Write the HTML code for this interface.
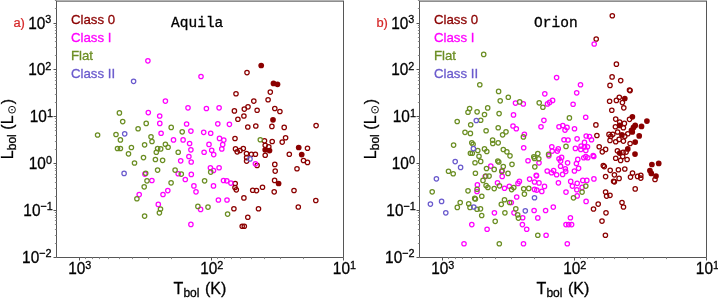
<!DOCTYPE html>
<html><head><meta charset="utf-8"><title>Lbol vs Tbol</title>
<style>
html,body{margin:0;padding:0;background:#fff;overflow:hidden}
svg{display:block;will-change:transform}
text{font-family:"Liberation Sans",sans-serif}
.mono{font-family:"Liberation Mono",monospace}
</style></head><body>
<svg width="718" height="298" viewBox="0 0 718 298">
<rect width="718" height="298" fill="#fff"/>
<g id="panel-a">
<rect x="56.0" y="0" width="288.0" height="1" fill="#b2b2b2"/>
<rect x="56.0" y="1" width="288.0" height="1" fill="#8e8e8e"/>
<path d="M56.5 1V257.5H343.5V1" fill="none" stroke="#565656" stroke-width="1"/>
<path d="M343.5 257.5v3M211.5 257.5v3M79.5 257.5v3M56.5 257.5h-3M56.5 210.5h-3M56.5 163.5h-3M56.5 116.5h-3M56.5 69.5h-3M56.5 23.5h-3" fill="none" stroke="#565656" stroke-width="1"/>
<path d="M303.5 257.5v1.6M280.5 257.5v1.6M264.5 257.5v1.6M251.5 257.5v1.6M240.5 257.5v1.6M231.5 257.5v1.6M224.5 257.5v1.6M217.5 257.5v1.6M171.5 257.5v1.6M148.5 257.5v1.6M132.5 257.5v1.6M119.5 257.5v1.6M108.5 257.5v1.6M99.5 257.5v1.6M92.5 257.5v1.6M85.5 257.5v1.6M56.5 243.5h-1.6M56.5 235.5h-1.6M56.5 229.5h-1.6M56.5 224.5h-1.6M56.5 220.5h-1.6M56.5 217.5h-1.6M56.5 215.5h-1.6M56.5 212.5h-1.6M56.5 196.5h-1.6M56.5 188.5h-1.6M56.5 182.5h-1.6M56.5 177.5h-1.6M56.5 174.5h-1.6M56.5 170.5h-1.6M56.5 168.5h-1.6M56.5 165.5h-1.6M56.5 149.5h-1.6M56.5 141.5h-1.6M56.5 135.5h-1.6M56.5 130.5h-1.6M56.5 127.5h-1.6M56.5 124.5h-1.6M56.5 121.5h-1.6M56.5 118.5h-1.6M56.5 102.5h-1.6M56.5 94.5h-1.6M56.5 88.5h-1.6M56.5 84.5h-1.6M56.5 80.5h-1.6M56.5 77.5h-1.6M56.5 74.5h-1.6M56.5 72.5h-1.6M56.5 55.5h-1.6M56.5 47.5h-1.6M56.5 41.5h-1.6M56.5 37.5h-1.6M56.5 33.5h-1.6M56.5 30.5h-1.6M56.5 27.5h-1.6M56.5 25.5h-1.6M56.5 8.5h-1.6M56.5 0.5h-1.6" fill="none" stroke="#8a8a8a" stroke-width="1"/>
<text transform="translate(79.80 274.30) scale(0.94 1)" text-anchor="middle" font-size="16.4" stroke="#000" stroke-width="0.3">10<tspan dy="-5.5" font-size="11.5">3</tspan></text>
<text transform="translate(211.80 274.30) scale(0.94 1)" text-anchor="middle" font-size="16.4" stroke="#000" stroke-width="0.3">10<tspan dy="-5.5" font-size="11.5">2</tspan></text>
<text transform="translate(344.40 274.30) scale(0.94 1)" text-anchor="middle" font-size="16.4" stroke="#000" stroke-width="0.3">10<tspan dy="-5.5" font-size="11.5">1</tspan></text>
<text transform="translate(51.30 28.50) scale(0.94 1)" text-anchor="end" font-size="16.4" stroke="#000" stroke-width="0.3">10<tspan dy="-5.5" font-size="11.5">3</tspan></text>
<text transform="translate(51.30 75.36) scale(0.94 1)" text-anchor="end" font-size="16.4" stroke="#000" stroke-width="0.3">10<tspan dy="-5.5" font-size="11.5">2</tspan></text>
<text transform="translate(52.90 122.22) scale(0.94 1)" text-anchor="end" font-size="16.4" stroke="#000" stroke-width="0.3">10<tspan dy="-5.5" font-size="11.5">1</tspan></text>
<text transform="translate(51.90 169.08) scale(0.94 1)" text-anchor="end" font-size="16.4" stroke="#000" stroke-width="0.3">10<tspan dy="-5.5" font-size="11.5">0</tspan></text>
<text transform="translate(52.80 215.94) scale(0.94 1)" text-anchor="end" font-size="16.4" stroke="#000" stroke-width="0.3">10<tspan dy="-5.5" font-size="11.5">−1</tspan></text>
<text transform="translate(51.60 262.80) scale(0.94 1)" text-anchor="end" font-size="16.4" stroke="#000" stroke-width="0.3">10<tspan dy="-5.5" font-size="11.5">−2</tspan></text>
<text transform="translate(13.4 26.8) scale(0.97 1)" font-size="13.3" fill="#d62728" stroke="#d62728" stroke-width="0.25">a)</text>
<text transform="translate(70.9 23.65) scale(0.975 1)" font-size="13.6" fill="#8b0000" stroke="#8b0000" stroke-width="0.3">Class 0</text>
<text transform="translate(70.9 41.60) scale(0.975 1)" font-size="13.6" fill="#ff00ff" stroke="#ff00ff" stroke-width="0.3">Class I</text>
<text transform="translate(70.9 59.55) scale(0.975 1)" font-size="13.6" fill="#6b8e23" stroke="#6b8e23" stroke-width="0.3">Flat</text>
<text transform="translate(70.9 77.50) scale(0.975 1)" font-size="13.6" fill="#6a5acd" stroke="#6a5acd" stroke-width="0.3">Class II</text>
<text x="171.1" y="26.6" font-size="14.5" class="mono" stroke="#000" stroke-width="0.3">Aquila</text>
<text x="200.0" y="293.9" text-anchor="middle" font-size="16" stroke="#000" stroke-width="0.3">T<tspan dy="2.8" font-size="12">bol</tspan><tspan dy="-2.8" dx="1.2"> (K)</tspan></text>
<g transform="translate(12.9 159.2) rotate(-90)"><text x="0" y="0" font-size="16" stroke="#000" stroke-width="0.3">L<tspan dy="2.8" font-size="12">bol</tspan><tspan dy="-2.8" dx="0.2"> (L</tspan></text><circle cx="49.5" cy="-0.9" r="3.4" fill="none" stroke="#000" stroke-width="0.9"/><circle cx="49.5" cy="-0.9" r="0.8" fill="#000"/><text x="55.0" y="0" font-size="16" stroke="#000" stroke-width="0.3">)</text></g>
<circle cx="261.2" cy="65.5" r="2.85" fill="#8b0000"/>
<circle cx="273.5" cy="83.4" r="2.85" fill="#8b0000"/>
<circle cx="277.5" cy="84.3" r="2.85" fill="#8b0000"/>
<circle cx="273.0" cy="119.8" r="2.85" fill="#8b0000"/>
<circle cx="265.2" cy="149.8" r="2.85" fill="#8b0000"/>
<circle cx="269.5" cy="150.6" r="2.85" fill="#8b0000"/>
<circle cx="298.7" cy="147.5" r="2.85" fill="#8b0000"/>
<circle cx="301.7" cy="154.6" r="2.85" fill="#8b0000"/>
<circle cx="278.6" cy="183.5" r="2.85" fill="#8b0000"/>
<circle cx="247.0" cy="72.6" r="2.2" fill="none" stroke="#8b0000" stroke-width="1.25"/>
<circle cx="236.0" cy="93.7" r="2.2" fill="none" stroke="#8b0000" stroke-width="1.25"/>
<circle cx="234.4" cy="110.9" r="2.2" fill="none" stroke="#8b0000" stroke-width="1.25"/>
<circle cx="244.3" cy="109.1" r="2.2" fill="none" stroke="#8b0000" stroke-width="1.25"/>
<circle cx="248.0" cy="106.8" r="2.2" fill="none" stroke="#8b0000" stroke-width="1.25"/>
<circle cx="243.9" cy="116.0" r="2.2" fill="none" stroke="#8b0000" stroke-width="1.25"/>
<circle cx="237.9" cy="119.2" r="2.2" fill="none" stroke="#8b0000" stroke-width="1.25"/>
<circle cx="270.3" cy="92.1" r="2.2" fill="none" stroke="#8b0000" stroke-width="1.25"/>
<circle cx="268.1" cy="99.7" r="2.2" fill="none" stroke="#8b0000" stroke-width="1.25"/>
<circle cx="253.8" cy="101.1" r="2.2" fill="none" stroke="#8b0000" stroke-width="1.25"/>
<circle cx="257.1" cy="110.2" r="2.2" fill="none" stroke="#8b0000" stroke-width="1.25"/>
<circle cx="274.8" cy="108.5" r="2.2" fill="none" stroke="#8b0000" stroke-width="1.25"/>
<circle cx="279.9" cy="111.5" r="2.2" fill="none" stroke="#8b0000" stroke-width="1.25"/>
<circle cx="247.8" cy="127.0" r="2.2" fill="none" stroke="#8b0000" stroke-width="1.25"/>
<circle cx="235.0" cy="138.5" r="2.2" fill="none" stroke="#8b0000" stroke-width="1.25"/>
<circle cx="235.5" cy="148.9" r="2.2" fill="none" stroke="#8b0000" stroke-width="1.25"/>
<circle cx="243.3" cy="148.5" r="2.2" fill="none" stroke="#8b0000" stroke-width="1.25"/>
<circle cx="237.2" cy="151.8" r="2.2" fill="none" stroke="#8b0000" stroke-width="1.25"/>
<circle cx="240.0" cy="150.5" r="2.2" fill="none" stroke="#8b0000" stroke-width="1.25"/>
<circle cx="246.5" cy="153.6" r="2.2" fill="none" stroke="#8b0000" stroke-width="1.25"/>
<circle cx="246.6" cy="157.6" r="2.2" fill="none" stroke="#8b0000" stroke-width="1.25"/>
<circle cx="246.6" cy="161.1" r="2.2" fill="none" stroke="#8b0000" stroke-width="1.25"/>
<circle cx="255.8" cy="126.0" r="2.2" fill="none" stroke="#8b0000" stroke-width="1.25"/>
<circle cx="271.9" cy="126.4" r="2.2" fill="none" stroke="#8b0000" stroke-width="1.25"/>
<circle cx="284.2" cy="127.4" r="2.2" fill="none" stroke="#8b0000" stroke-width="1.25"/>
<circle cx="316.1" cy="125.6" r="2.2" fill="none" stroke="#8b0000" stroke-width="1.25"/>
<circle cx="264.5" cy="140.8" r="2.2" fill="none" stroke="#8b0000" stroke-width="1.25"/>
<circle cx="272.2" cy="141.5" r="2.2" fill="none" stroke="#8b0000" stroke-width="1.25"/>
<circle cx="285.6" cy="137.7" r="2.2" fill="none" stroke="#8b0000" stroke-width="1.25"/>
<circle cx="282.2" cy="142.1" r="2.2" fill="none" stroke="#8b0000" stroke-width="1.25"/>
<circle cx="265.2" cy="145.2" r="2.2" fill="none" stroke="#8b0000" stroke-width="1.25"/>
<circle cx="268.8" cy="146.8" r="2.2" fill="none" stroke="#8b0000" stroke-width="1.25"/>
<circle cx="307.5" cy="148.2" r="2.2" fill="none" stroke="#8b0000" stroke-width="1.25"/>
<circle cx="289.3" cy="154.2" r="2.2" fill="none" stroke="#8b0000" stroke-width="1.25"/>
<circle cx="265.2" cy="155.2" r="2.2" fill="none" stroke="#8b0000" stroke-width="1.25"/>
<circle cx="255.4" cy="154.2" r="2.2" fill="none" stroke="#8b0000" stroke-width="1.25"/>
<circle cx="251.4" cy="154.2" r="2.2" fill="none" stroke="#8b0000" stroke-width="1.25"/>
<circle cx="235.2" cy="183.5" r="2.2" fill="none" stroke="#8b0000" stroke-width="1.25"/>
<circle cx="235.0" cy="187.5" r="2.2" fill="none" stroke="#8b0000" stroke-width="1.25"/>
<circle cx="236.3" cy="189.8" r="2.2" fill="none" stroke="#8b0000" stroke-width="1.25"/>
<circle cx="243.9" cy="197.9" r="2.2" fill="none" stroke="#8b0000" stroke-width="1.25"/>
<circle cx="257.1" cy="165.4" r="2.2" fill="none" stroke="#8b0000" stroke-width="1.25"/>
<circle cx="274.8" cy="164.4" r="2.2" fill="none" stroke="#8b0000" stroke-width="1.25"/>
<circle cx="275.2" cy="171.1" r="2.2" fill="none" stroke="#8b0000" stroke-width="1.25"/>
<circle cx="297.0" cy="168.7" r="2.2" fill="none" stroke="#8b0000" stroke-width="1.25"/>
<circle cx="303.5" cy="160.5" r="2.2" fill="none" stroke="#8b0000" stroke-width="1.25"/>
<circle cx="307.5" cy="162.4" r="2.2" fill="none" stroke="#8b0000" stroke-width="1.25"/>
<circle cx="274.6" cy="180.4" r="2.2" fill="none" stroke="#8b0000" stroke-width="1.25"/>
<circle cx="262.5" cy="187.2" r="2.2" fill="none" stroke="#8b0000" stroke-width="1.25"/>
<circle cx="252.7" cy="190.2" r="2.2" fill="none" stroke="#8b0000" stroke-width="1.25"/>
<circle cx="256.5" cy="190.6" r="2.2" fill="none" stroke="#8b0000" stroke-width="1.25"/>
<circle cx="274.2" cy="191.8" r="2.2" fill="none" stroke="#8b0000" stroke-width="1.25"/>
<circle cx="294.0" cy="190.5" r="2.2" fill="none" stroke="#8b0000" stroke-width="1.25"/>
<circle cx="315.8" cy="200.5" r="2.2" fill="none" stroke="#8b0000" stroke-width="1.25"/>
<circle cx="233.9" cy="208.7" r="2.2" fill="none" stroke="#8b0000" stroke-width="1.25"/>
<circle cx="247.8" cy="217.2" r="2.2" fill="none" stroke="#8b0000" stroke-width="1.25"/>
<circle cx="242.2" cy="226.2" r="2.2" fill="none" stroke="#8b0000" stroke-width="1.25"/>
<circle cx="244.3" cy="226.2" r="2.2" fill="none" stroke="#8b0000" stroke-width="1.25"/>
<circle cx="258.5" cy="208.7" r="2.2" fill="none" stroke="#8b0000" stroke-width="1.25"/>
<circle cx="298.3" cy="207.0" r="2.2" fill="none" stroke="#8b0000" stroke-width="1.25"/>
<circle cx="147.9" cy="60.8" r="2.2" fill="none" stroke="#ff00ff" stroke-width="1.25"/>
<circle cx="201.0" cy="76.5" r="2.2" fill="none" stroke="#ff00ff" stroke-width="1.25"/>
<circle cx="148.3" cy="112.6" r="2.2" fill="none" stroke="#ff00ff" stroke-width="1.25"/>
<circle cx="165.4" cy="101.1" r="2.2" fill="none" stroke="#ff00ff" stroke-width="1.25"/>
<circle cx="159.7" cy="116.0" r="2.2" fill="none" stroke="#ff00ff" stroke-width="1.25"/>
<circle cx="188.0" cy="107.8" r="2.2" fill="none" stroke="#ff00ff" stroke-width="1.25"/>
<circle cx="206.4" cy="108.5" r="2.2" fill="none" stroke="#ff00ff" stroke-width="1.25"/>
<circle cx="219.1" cy="107.8" r="2.2" fill="none" stroke="#ff00ff" stroke-width="1.25"/>
<circle cx="159.8" cy="123.4" r="2.2" fill="none" stroke="#ff00ff" stroke-width="1.25"/>
<circle cx="186.6" cy="124.0" r="2.2" fill="none" stroke="#ff00ff" stroke-width="1.25"/>
<circle cx="217.8" cy="123.8" r="2.2" fill="none" stroke="#ff00ff" stroke-width="1.25"/>
<circle cx="229.4" cy="124.3" r="2.2" fill="none" stroke="#ff00ff" stroke-width="1.25"/>
<circle cx="161.1" cy="133.2" r="2.2" fill="none" stroke="#ff00ff" stroke-width="1.25"/>
<circle cx="190.9" cy="131.1" r="2.2" fill="none" stroke="#ff00ff" stroke-width="1.25"/>
<circle cx="203.7" cy="132.3" r="2.2" fill="none" stroke="#ff00ff" stroke-width="1.25"/>
<circle cx="210.7" cy="133.2" r="2.2" fill="none" stroke="#ff00ff" stroke-width="1.25"/>
<circle cx="173.5" cy="139.9" r="2.2" fill="none" stroke="#ff00ff" stroke-width="1.25"/>
<circle cx="183.1" cy="139.9" r="2.2" fill="none" stroke="#ff00ff" stroke-width="1.25"/>
<circle cx="189.6" cy="143.5" r="2.2" fill="none" stroke="#ff00ff" stroke-width="1.25"/>
<circle cx="219.5" cy="138.4" r="2.2" fill="none" stroke="#ff00ff" stroke-width="1.25"/>
<circle cx="223.8" cy="140.1" r="2.2" fill="none" stroke="#ff00ff" stroke-width="1.25"/>
<circle cx="222.7" cy="144.6" r="2.2" fill="none" stroke="#ff00ff" stroke-width="1.25"/>
<circle cx="209.0" cy="144.4" r="2.2" fill="none" stroke="#ff00ff" stroke-width="1.25"/>
<circle cx="221.8" cy="148.9" r="2.2" fill="none" stroke="#ff00ff" stroke-width="1.25"/>
<circle cx="190.9" cy="149.8" r="2.2" fill="none" stroke="#ff00ff" stroke-width="1.25"/>
<circle cx="211.7" cy="150.2" r="2.2" fill="none" stroke="#ff00ff" stroke-width="1.25"/>
<circle cx="204.1" cy="152.2" r="2.2" fill="none" stroke="#ff00ff" stroke-width="1.25"/>
<circle cx="213.7" cy="154.6" r="2.2" fill="none" stroke="#ff00ff" stroke-width="1.25"/>
<circle cx="188.9" cy="156.5" r="2.2" fill="none" stroke="#ff00ff" stroke-width="1.25"/>
<circle cx="180.7" cy="160.8" r="2.2" fill="none" stroke="#ff00ff" stroke-width="1.25"/>
<circle cx="191.2" cy="162.0" r="2.2" fill="none" stroke="#ff00ff" stroke-width="1.25"/>
<circle cx="210.4" cy="167.7" r="2.2" fill="none" stroke="#ff00ff" stroke-width="1.25"/>
<circle cx="219.1" cy="167.7" r="2.2" fill="none" stroke="#ff00ff" stroke-width="1.25"/>
<circle cx="213.5" cy="170.5" r="2.2" fill="none" stroke="#ff00ff" stroke-width="1.25"/>
<circle cx="178.2" cy="173.7" r="2.2" fill="none" stroke="#ff00ff" stroke-width="1.25"/>
<circle cx="191.3" cy="174.4" r="2.2" fill="none" stroke="#ff00ff" stroke-width="1.25"/>
<circle cx="185.3" cy="179.5" r="2.2" fill="none" stroke="#ff00ff" stroke-width="1.25"/>
<circle cx="151.9" cy="180.5" r="2.2" fill="none" stroke="#ff00ff" stroke-width="1.25"/>
<circle cx="193.9" cy="185.9" r="2.2" fill="none" stroke="#ff00ff" stroke-width="1.25"/>
<circle cx="196.0" cy="191.8" r="2.2" fill="none" stroke="#ff00ff" stroke-width="1.25"/>
<circle cx="167.8" cy="190.6" r="2.2" fill="none" stroke="#ff00ff" stroke-width="1.25"/>
<circle cx="163.0" cy="194.5" r="2.2" fill="none" stroke="#ff00ff" stroke-width="1.25"/>
<circle cx="213.5" cy="185.9" r="2.2" fill="none" stroke="#ff00ff" stroke-width="1.25"/>
<circle cx="223.5" cy="180.5" r="2.2" fill="none" stroke="#ff00ff" stroke-width="1.25"/>
<circle cx="226.8" cy="180.8" r="2.2" fill="none" stroke="#ff00ff" stroke-width="1.25"/>
<circle cx="230.9" cy="183.1" r="2.2" fill="none" stroke="#ff00ff" stroke-width="1.25"/>
<circle cx="218.4" cy="200.0" r="2.2" fill="none" stroke="#ff00ff" stroke-width="1.25"/>
<circle cx="227.0" cy="200.0" r="2.2" fill="none" stroke="#ff00ff" stroke-width="1.25"/>
<circle cx="144.9" cy="174.1" r="2.2" fill="none" stroke="#ff00ff" stroke-width="1.25"/>
<circle cx="139.2" cy="194.6" r="2.2" fill="none" stroke="#ff00ff" stroke-width="1.25"/>
<circle cx="158.3" cy="204.4" r="2.2" fill="none" stroke="#ff00ff" stroke-width="1.25"/>
<circle cx="200.6" cy="209.4" r="2.2" fill="none" stroke="#ff00ff" stroke-width="1.25"/>
<circle cx="190.9" cy="224.4" r="2.2" fill="none" stroke="#ff00ff" stroke-width="1.25"/>
<circle cx="255.4" cy="163.8" r="2.2" fill="none" stroke="#ff00ff" stroke-width="1.25"/>
<circle cx="119.4" cy="112.9" r="2.2" fill="none" stroke="#6b8e23" stroke-width="1.25"/>
<circle cx="122.7" cy="121.6" r="2.2" fill="none" stroke="#6b8e23" stroke-width="1.25"/>
<circle cx="146.2" cy="123.4" r="2.2" fill="none" stroke="#6b8e23" stroke-width="1.25"/>
<circle cx="138.1" cy="128.7" r="2.2" fill="none" stroke="#6b8e23" stroke-width="1.25"/>
<circle cx="97.6" cy="135.0" r="2.2" fill="none" stroke="#6b8e23" stroke-width="1.25"/>
<circle cx="116.0" cy="134.5" r="2.2" fill="none" stroke="#6b8e23" stroke-width="1.25"/>
<circle cx="120.4" cy="139.9" r="2.2" fill="none" stroke="#6b8e23" stroke-width="1.25"/>
<circle cx="151.0" cy="136.8" r="2.2" fill="none" stroke="#6b8e23" stroke-width="1.25"/>
<circle cx="152.0" cy="141.5" r="2.2" fill="none" stroke="#6b8e23" stroke-width="1.25"/>
<circle cx="144.6" cy="144.8" r="2.2" fill="none" stroke="#6b8e23" stroke-width="1.25"/>
<circle cx="117.5" cy="148.5" r="2.2" fill="none" stroke="#6b8e23" stroke-width="1.25"/>
<circle cx="120.4" cy="148.5" r="2.2" fill="none" stroke="#6b8e23" stroke-width="1.25"/>
<circle cx="131.4" cy="147.5" r="2.2" fill="none" stroke="#6b8e23" stroke-width="1.25"/>
<circle cx="128.5" cy="153.8" r="2.2" fill="none" stroke="#6b8e23" stroke-width="1.25"/>
<circle cx="143.5" cy="157.6" r="2.2" fill="none" stroke="#6b8e23" stroke-width="1.25"/>
<circle cx="171.2" cy="127.4" r="2.2" fill="none" stroke="#6b8e23" stroke-width="1.25"/>
<circle cx="182.2" cy="131.8" r="2.2" fill="none" stroke="#6b8e23" stroke-width="1.25"/>
<circle cx="165.4" cy="144.2" r="2.2" fill="none" stroke="#6b8e23" stroke-width="1.25"/>
<circle cx="168.1" cy="147.2" r="2.2" fill="none" stroke="#6b8e23" stroke-width="1.25"/>
<circle cx="160.7" cy="148.9" r="2.2" fill="none" stroke="#6b8e23" stroke-width="1.25"/>
<circle cx="157.6" cy="148.5" r="2.2" fill="none" stroke="#6b8e23" stroke-width="1.25"/>
<circle cx="156.3" cy="152.2" r="2.2" fill="none" stroke="#6b8e23" stroke-width="1.25"/>
<circle cx="178.2" cy="152.2" r="2.2" fill="none" stroke="#6b8e23" stroke-width="1.25"/>
<circle cx="155.4" cy="159.5" r="2.2" fill="none" stroke="#6b8e23" stroke-width="1.25"/>
<circle cx="162.6" cy="160.3" r="2.2" fill="none" stroke="#6b8e23" stroke-width="1.25"/>
<circle cx="134.5" cy="163.0" r="2.2" fill="none" stroke="#6b8e23" stroke-width="1.25"/>
<circle cx="145.7" cy="173.2" r="2.2" fill="none" stroke="#6b8e23" stroke-width="1.25"/>
<circle cx="147.0" cy="180.8" r="2.2" fill="none" stroke="#6b8e23" stroke-width="1.25"/>
<circle cx="144.2" cy="186.8" r="2.2" fill="none" stroke="#6b8e23" stroke-width="1.25"/>
<circle cx="136.9" cy="198.7" r="2.2" fill="none" stroke="#6b8e23" stroke-width="1.25"/>
<circle cx="157.6" cy="170.1" r="2.2" fill="none" stroke="#6b8e23" stroke-width="1.25"/>
<circle cx="175.1" cy="170.1" r="2.2" fill="none" stroke="#6b8e23" stroke-width="1.25"/>
<circle cx="181.3" cy="174.1" r="2.2" fill="none" stroke="#6b8e23" stroke-width="1.25"/>
<circle cx="171.1" cy="182.8" r="2.2" fill="none" stroke="#6b8e23" stroke-width="1.25"/>
<circle cx="204.6" cy="180.8" r="2.2" fill="none" stroke="#6b8e23" stroke-width="1.25"/>
<circle cx="210.7" cy="172.1" r="2.2" fill="none" stroke="#6b8e23" stroke-width="1.25"/>
<circle cx="144.6" cy="216.1" r="2.2" fill="none" stroke="#6b8e23" stroke-width="1.25"/>
<circle cx="160.5" cy="209.1" r="2.2" fill="none" stroke="#6b8e23" stroke-width="1.25"/>
<circle cx="159.4" cy="212.8" r="2.2" fill="none" stroke="#6b8e23" stroke-width="1.25"/>
<circle cx="197.9" cy="206.4" r="2.2" fill="none" stroke="#6b8e23" stroke-width="1.25"/>
<circle cx="208.0" cy="207.1" r="2.2" fill="none" stroke="#6b8e23" stroke-width="1.25"/>
<circle cx="227.6" cy="214.1" r="2.2" fill="none" stroke="#6b8e23" stroke-width="1.25"/>
<circle cx="260.3" cy="139.7" r="2.2" fill="none" stroke="#6b8e23" stroke-width="1.25"/>
<circle cx="133.6" cy="81.3" r="2.2" fill="none" stroke="#6a5acd" stroke-width="1.25"/>
<circle cx="124.7" cy="133.8" r="2.2" fill="none" stroke="#6a5acd" stroke-width="1.25"/>
<circle cx="124.1" cy="173.4" r="2.2" fill="none" stroke="#6a5acd" stroke-width="1.25"/>
<circle cx="250.0" cy="158.9" r="2.2" fill="none" stroke="#6a5acd" stroke-width="1.25"/>
</g>
<g id="panel-b">
<rect x="419.0" y="0" width="288.0" height="1" fill="#b2b2b2"/>
<rect x="419.0" y="1" width="288.0" height="1" fill="#8e8e8e"/>
<path d="M419.5 1V257.5H706.5V1" fill="none" stroke="#565656" stroke-width="1"/>
<path d="M706.5 257.5v3M574.5 257.5v3M442.5 257.5v3M419.5 257.5h-3M419.5 210.5h-3M419.5 163.5h-3M419.5 116.5h-3M419.5 69.5h-3M419.5 23.5h-3" fill="none" stroke="#565656" stroke-width="1"/>
<path d="M666.5 257.5v1.6M643.5 257.5v1.6M627.5 257.5v1.6M614.5 257.5v1.6M603.5 257.5v1.6M594.5 257.5v1.6M587.5 257.5v1.6M580.5 257.5v1.6M534.5 257.5v1.6M511.5 257.5v1.6M495.5 257.5v1.6M482.5 257.5v1.6M471.5 257.5v1.6M462.5 257.5v1.6M455.5 257.5v1.6M448.5 257.5v1.6M419.5 243.5h-1.6M419.5 235.5h-1.6M419.5 229.5h-1.6M419.5 224.5h-1.6M419.5 220.5h-1.6M419.5 217.5h-1.6M419.5 215.5h-1.6M419.5 212.5h-1.6M419.5 196.5h-1.6M419.5 188.5h-1.6M419.5 182.5h-1.6M419.5 177.5h-1.6M419.5 174.5h-1.6M419.5 170.5h-1.6M419.5 168.5h-1.6M419.5 165.5h-1.6M419.5 149.5h-1.6M419.5 141.5h-1.6M419.5 135.5h-1.6M419.5 130.5h-1.6M419.5 127.5h-1.6M419.5 124.5h-1.6M419.5 121.5h-1.6M419.5 118.5h-1.6M419.5 102.5h-1.6M419.5 94.5h-1.6M419.5 88.5h-1.6M419.5 84.5h-1.6M419.5 80.5h-1.6M419.5 77.5h-1.6M419.5 74.5h-1.6M419.5 72.5h-1.6M419.5 55.5h-1.6M419.5 47.5h-1.6M419.5 41.5h-1.6M419.5 37.5h-1.6M419.5 33.5h-1.6M419.5 30.5h-1.6M419.5 27.5h-1.6M419.5 25.5h-1.6M419.5 8.5h-1.6M419.5 0.5h-1.6" fill="none" stroke="#8a8a8a" stroke-width="1"/>
<text transform="translate(442.80 274.30) scale(0.94 1)" text-anchor="middle" font-size="16.4" stroke="#000" stroke-width="0.3">10<tspan dy="-5.5" font-size="11.5">3</tspan></text>
<text transform="translate(574.80 274.30) scale(0.94 1)" text-anchor="middle" font-size="16.4" stroke="#000" stroke-width="0.3">10<tspan dy="-5.5" font-size="11.5">2</tspan></text>
<text transform="translate(707.40 274.30) scale(0.94 1)" text-anchor="middle" font-size="16.4" stroke="#000" stroke-width="0.3">10<tspan dy="-5.5" font-size="11.5">1</tspan></text>
<text transform="translate(414.30 28.50) scale(0.94 1)" text-anchor="end" font-size="16.4" stroke="#000" stroke-width="0.3">10<tspan dy="-5.5" font-size="11.5">3</tspan></text>
<text transform="translate(414.30 75.36) scale(0.94 1)" text-anchor="end" font-size="16.4" stroke="#000" stroke-width="0.3">10<tspan dy="-5.5" font-size="11.5">2</tspan></text>
<text transform="translate(415.90 122.22) scale(0.94 1)" text-anchor="end" font-size="16.4" stroke="#000" stroke-width="0.3">10<tspan dy="-5.5" font-size="11.5">1</tspan></text>
<text transform="translate(414.90 169.08) scale(0.94 1)" text-anchor="end" font-size="16.4" stroke="#000" stroke-width="0.3">10<tspan dy="-5.5" font-size="11.5">0</tspan></text>
<text transform="translate(415.80 215.94) scale(0.94 1)" text-anchor="end" font-size="16.4" stroke="#000" stroke-width="0.3">10<tspan dy="-5.5" font-size="11.5">−1</tspan></text>
<text transform="translate(414.60 262.80) scale(0.94 1)" text-anchor="end" font-size="16.4" stroke="#000" stroke-width="0.3">10<tspan dy="-5.5" font-size="11.5">−2</tspan></text>
<text transform="translate(376.4 26.8) scale(0.97 1)" font-size="13.3" fill="#d62728" stroke="#d62728" stroke-width="0.25">b)</text>
<text transform="translate(433.9 23.65) scale(0.975 1)" font-size="13.6" fill="#8b0000" stroke="#8b0000" stroke-width="0.3">Class 0</text>
<text transform="translate(433.9 41.60) scale(0.975 1)" font-size="13.6" fill="#ff00ff" stroke="#ff00ff" stroke-width="0.3">Class I</text>
<text transform="translate(433.9 59.55) scale(0.975 1)" font-size="13.6" fill="#6b8e23" stroke="#6b8e23" stroke-width="0.3">Flat</text>
<text transform="translate(433.9 77.50) scale(0.975 1)" font-size="13.6" fill="#6a5acd" stroke="#6a5acd" stroke-width="0.3">Class II</text>
<text x="534.1" y="26.6" font-size="14.5" class="mono" stroke="#000" stroke-width="0.3">Orion</text>
<text x="563.0" y="293.9" text-anchor="middle" font-size="16" stroke="#000" stroke-width="0.3">T<tspan dy="2.8" font-size="12">bol</tspan><tspan dy="-2.8" dx="1.2"> (K)</tspan></text>
<g transform="translate(375.9 159.2) rotate(-90)"><text x="0" y="0" font-size="16" stroke="#000" stroke-width="0.3">L<tspan dy="2.8" font-size="12">bol</tspan><tspan dy="-2.8" dx="0.2"> (L</tspan></text><circle cx="49.5" cy="-0.9" r="3.4" fill="none" stroke="#000" stroke-width="0.9"/><circle cx="49.5" cy="-0.9" r="0.8" fill="#000"/><text x="55.0" y="0" font-size="16" stroke="#000" stroke-width="0.3">)</text></g>
<circle cx="624.8" cy="98.5" r="2.85" fill="#8b0000"/>
<circle cx="632.4" cy="116.8" r="2.85" fill="#8b0000"/>
<circle cx="646.9" cy="121.1" r="2.85" fill="#8b0000"/>
<circle cx="619.7" cy="125.4" r="2.85" fill="#8b0000"/>
<circle cx="641.5" cy="126.4" r="2.85" fill="#8b0000"/>
<circle cx="635.2" cy="125.4" r="2.85" fill="#8b0000"/>
<circle cx="633.5" cy="127.4" r="2.85" fill="#8b0000"/>
<circle cx="631.5" cy="130.4" r="2.85" fill="#8b0000"/>
<circle cx="632.3" cy="131.9" r="2.85" fill="#8b0000"/>
<circle cx="621.9" cy="134.9" r="2.85" fill="#8b0000"/>
<circle cx="639.2" cy="135.9" r="2.85" fill="#8b0000"/>
<circle cx="635.2" cy="142.1" r="2.85" fill="#8b0000"/>
<circle cx="627.8" cy="148.9" r="2.85" fill="#8b0000"/>
<circle cx="619.7" cy="153.1" r="2.85" fill="#8b0000"/>
<circle cx="635.0" cy="154.1" r="2.85" fill="#8b0000"/>
<circle cx="651.9" cy="164.5" r="2.85" fill="#8b0000"/>
<circle cx="658.7" cy="163.4" r="2.85" fill="#8b0000"/>
<circle cx="649.9" cy="170.5" r="2.85" fill="#8b0000"/>
<circle cx="651.3" cy="173.4" r="2.85" fill="#8b0000"/>
<circle cx="656.0" cy="176.1" r="2.85" fill="#8b0000"/>
<circle cx="612.3" cy="15.7" r="2.2" fill="none" stroke="#8b0000" stroke-width="1.25"/>
<circle cx="596.2" cy="39.0" r="2.2" fill="none" stroke="#8b0000" stroke-width="1.25"/>
<circle cx="616.4" cy="64.2" r="2.2" fill="none" stroke="#8b0000" stroke-width="1.25"/>
<circle cx="612.1" cy="76.9" r="2.2" fill="none" stroke="#8b0000" stroke-width="1.25"/>
<circle cx="620.7" cy="80.6" r="2.2" fill="none" stroke="#8b0000" stroke-width="1.25"/>
<circle cx="610.0" cy="85.4" r="2.2" fill="none" stroke="#8b0000" stroke-width="1.25"/>
<circle cx="629.5" cy="90.0" r="2.2" fill="none" stroke="#8b0000" stroke-width="1.25"/>
<circle cx="630.1" cy="90.6" r="2.2" fill="none" stroke="#8b0000" stroke-width="1.25"/>
<circle cx="619.3" cy="97.2" r="2.2" fill="none" stroke="#8b0000" stroke-width="1.25"/>
<circle cx="616.4" cy="100.4" r="2.2" fill="none" stroke="#8b0000" stroke-width="1.25"/>
<circle cx="622.4" cy="102.6" r="2.2" fill="none" stroke="#8b0000" stroke-width="1.25"/>
<circle cx="609.6" cy="101.2" r="2.2" fill="none" stroke="#8b0000" stroke-width="1.25"/>
<circle cx="623.8" cy="107.8" r="2.2" fill="none" stroke="#8b0000" stroke-width="1.25"/>
<circle cx="611.8" cy="110.2" r="2.2" fill="none" stroke="#8b0000" stroke-width="1.25"/>
<circle cx="615.7" cy="119.1" r="2.2" fill="none" stroke="#8b0000" stroke-width="1.25"/>
<circle cx="629.5" cy="119.3" r="2.2" fill="none" stroke="#8b0000" stroke-width="1.25"/>
<circle cx="619.7" cy="122.0" r="2.2" fill="none" stroke="#8b0000" stroke-width="1.25"/>
<circle cx="624.4" cy="123.4" r="2.2" fill="none" stroke="#8b0000" stroke-width="1.25"/>
<circle cx="615.4" cy="126.7" r="2.2" fill="none" stroke="#8b0000" stroke-width="1.25"/>
<circle cx="623.4" cy="127.7" r="2.2" fill="none" stroke="#8b0000" stroke-width="1.25"/>
<circle cx="617.6" cy="132.0" r="2.2" fill="none" stroke="#8b0000" stroke-width="1.25"/>
<circle cx="612.8" cy="134.3" r="2.2" fill="none" stroke="#8b0000" stroke-width="1.25"/>
<circle cx="627.8" cy="133.7" r="2.2" fill="none" stroke="#8b0000" stroke-width="1.25"/>
<circle cx="624.8" cy="136.2" r="2.2" fill="none" stroke="#8b0000" stroke-width="1.25"/>
<circle cx="595.9" cy="124.9" r="2.2" fill="none" stroke="#8b0000" stroke-width="1.25"/>
<circle cx="596.9" cy="135.5" r="2.2" fill="none" stroke="#8b0000" stroke-width="1.25"/>
<circle cx="609.0" cy="134.4" r="2.2" fill="none" stroke="#8b0000" stroke-width="1.25"/>
<circle cx="610.8" cy="136.3" r="2.2" fill="none" stroke="#8b0000" stroke-width="1.25"/>
<circle cx="610.0" cy="140.4" r="2.2" fill="none" stroke="#8b0000" stroke-width="1.25"/>
<circle cx="599.2" cy="146.7" r="2.2" fill="none" stroke="#8b0000" stroke-width="1.25"/>
<circle cx="605.6" cy="149.4" r="2.2" fill="none" stroke="#8b0000" stroke-width="1.25"/>
<circle cx="602.3" cy="151.8" r="2.2" fill="none" stroke="#8b0000" stroke-width="1.25"/>
<circle cx="619.1" cy="139.4" r="2.2" fill="none" stroke="#8b0000" stroke-width="1.25"/>
<circle cx="615.7" cy="141.7" r="2.2" fill="none" stroke="#8b0000" stroke-width="1.25"/>
<circle cx="623.4" cy="141.1" r="2.2" fill="none" stroke="#8b0000" stroke-width="1.25"/>
<circle cx="630.1" cy="143.5" r="2.2" fill="none" stroke="#8b0000" stroke-width="1.25"/>
<circle cx="617.4" cy="150.8" r="2.2" fill="none" stroke="#8b0000" stroke-width="1.25"/>
<circle cx="623.1" cy="152.4" r="2.2" fill="none" stroke="#8b0000" stroke-width="1.25"/>
<circle cx="626.1" cy="152.1" r="2.2" fill="none" stroke="#8b0000" stroke-width="1.25"/>
<circle cx="615.7" cy="158.2" r="2.2" fill="none" stroke="#8b0000" stroke-width="1.25"/>
<circle cx="620.6" cy="160.4" r="2.2" fill="none" stroke="#8b0000" stroke-width="1.25"/>
<circle cx="622.7" cy="156.4" r="2.2" fill="none" stroke="#8b0000" stroke-width="1.25"/>
<circle cx="627.1" cy="159.5" r="2.2" fill="none" stroke="#8b0000" stroke-width="1.25"/>
<circle cx="603.3" cy="165.5" r="2.2" fill="none" stroke="#8b0000" stroke-width="1.25"/>
<circle cx="604.3" cy="166.6" r="2.2" fill="none" stroke="#8b0000" stroke-width="1.25"/>
<circle cx="610.2" cy="170.3" r="2.2" fill="none" stroke="#8b0000" stroke-width="1.25"/>
<circle cx="605.6" cy="176.6" r="2.2" fill="none" stroke="#8b0000" stroke-width="1.25"/>
<circle cx="605.6" cy="192.1" r="2.2" fill="none" stroke="#8b0000" stroke-width="1.25"/>
<circle cx="610.0" cy="195.3" r="2.2" fill="none" stroke="#8b0000" stroke-width="1.25"/>
<circle cx="606.6" cy="196.1" r="2.2" fill="none" stroke="#8b0000" stroke-width="1.25"/>
<circle cx="618.4" cy="169.7" r="2.2" fill="none" stroke="#8b0000" stroke-width="1.25"/>
<circle cx="624.8" cy="169.0" r="2.2" fill="none" stroke="#8b0000" stroke-width="1.25"/>
<circle cx="614.4" cy="174.8" r="2.2" fill="none" stroke="#8b0000" stroke-width="1.25"/>
<circle cx="619.1" cy="178.4" r="2.2" fill="none" stroke="#8b0000" stroke-width="1.25"/>
<circle cx="613.6" cy="181.2" r="2.2" fill="none" stroke="#8b0000" stroke-width="1.25"/>
<circle cx="614.4" cy="181.8" r="2.2" fill="none" stroke="#8b0000" stroke-width="1.25"/>
<circle cx="632.5" cy="173.0" r="2.2" fill="none" stroke="#8b0000" stroke-width="1.25"/>
<circle cx="630.5" cy="177.1" r="2.2" fill="none" stroke="#8b0000" stroke-width="1.25"/>
<circle cx="637.6" cy="176.4" r="2.2" fill="none" stroke="#8b0000" stroke-width="1.25"/>
<circle cx="640.8" cy="175.2" r="2.2" fill="none" stroke="#8b0000" stroke-width="1.25"/>
<circle cx="640.8" cy="178.1" r="2.2" fill="none" stroke="#8b0000" stroke-width="1.25"/>
<circle cx="655.0" cy="179.5" r="2.2" fill="none" stroke="#8b0000" stroke-width="1.25"/>
<circle cx="635.2" cy="188.9" r="2.2" fill="none" stroke="#8b0000" stroke-width="1.25"/>
<circle cx="598.2" cy="204.1" r="2.2" fill="none" stroke="#8b0000" stroke-width="1.25"/>
<circle cx="593.5" cy="209.0" r="2.2" fill="none" stroke="#8b0000" stroke-width="1.25"/>
<circle cx="606.0" cy="212.8" r="2.2" fill="none" stroke="#8b0000" stroke-width="1.25"/>
<circle cx="602.0" cy="221.1" r="2.2" fill="none" stroke="#8b0000" stroke-width="1.25"/>
<circle cx="605.4" cy="235.2" r="2.2" fill="none" stroke="#8b0000" stroke-width="1.25"/>
<circle cx="622.0" cy="202.5" r="2.2" fill="none" stroke="#8b0000" stroke-width="1.25"/>
<circle cx="623.5" cy="207.0" r="2.2" fill="none" stroke="#8b0000" stroke-width="1.25"/>
<circle cx="594.2" cy="44.0" r="2.2" fill="none" stroke="#ff00ff" stroke-width="1.25"/>
<circle cx="556.6" cy="77.6" r="2.2" fill="none" stroke="#ff00ff" stroke-width="1.25"/>
<circle cx="515.5" cy="103.1" r="2.2" fill="none" stroke="#ff00ff" stroke-width="1.25"/>
<circle cx="513.5" cy="114.9" r="2.2" fill="none" stroke="#ff00ff" stroke-width="1.25"/>
<circle cx="580.5" cy="84.7" r="2.2" fill="none" stroke="#ff00ff" stroke-width="1.25"/>
<circle cx="576.7" cy="92.8" r="2.2" fill="none" stroke="#ff00ff" stroke-width="1.25"/>
<circle cx="544.8" cy="93.8" r="2.2" fill="none" stroke="#ff00ff" stroke-width="1.25"/>
<circle cx="552.6" cy="100.4" r="2.2" fill="none" stroke="#ff00ff" stroke-width="1.25"/>
<circle cx="549.6" cy="102.4" r="2.2" fill="none" stroke="#ff00ff" stroke-width="1.25"/>
<circle cx="547.5" cy="103.9" r="2.2" fill="none" stroke="#ff00ff" stroke-width="1.25"/>
<circle cx="573.1" cy="104.2" r="2.2" fill="none" stroke="#ff00ff" stroke-width="1.25"/>
<circle cx="523.3" cy="103.9" r="2.2" fill="none" stroke="#ff00ff" stroke-width="1.25"/>
<circle cx="585.7" cy="117.2" r="2.2" fill="none" stroke="#ff00ff" stroke-width="1.25"/>
<circle cx="543.9" cy="120.3" r="2.2" fill="none" stroke="#ff00ff" stroke-width="1.25"/>
<circle cx="541.0" cy="126.7" r="2.2" fill="none" stroke="#ff00ff" stroke-width="1.25"/>
<circle cx="516.3" cy="128.7" r="2.2" fill="none" stroke="#ff00ff" stroke-width="1.25"/>
<circle cx="513.0" cy="126.0" r="2.2" fill="none" stroke="#ff00ff" stroke-width="1.25"/>
<circle cx="524.4" cy="134.3" r="2.2" fill="none" stroke="#ff00ff" stroke-width="1.25"/>
<circle cx="559.0" cy="126.7" r="2.2" fill="none" stroke="#ff00ff" stroke-width="1.25"/>
<circle cx="562.8" cy="125.5" r="2.2" fill="none" stroke="#ff00ff" stroke-width="1.25"/>
<circle cx="567.0" cy="127.4" r="2.2" fill="none" stroke="#ff00ff" stroke-width="1.25"/>
<circle cx="565.0" cy="130.1" r="2.2" fill="none" stroke="#ff00ff" stroke-width="1.25"/>
<circle cx="574.5" cy="128.7" r="2.2" fill="none" stroke="#ff00ff" stroke-width="1.25"/>
<circle cx="586.2" cy="136.0" r="2.2" fill="none" stroke="#ff00ff" stroke-width="1.25"/>
<circle cx="589.5" cy="136.5" r="2.2" fill="none" stroke="#ff00ff" stroke-width="1.25"/>
<circle cx="577.1" cy="138.8" r="2.2" fill="none" stroke="#ff00ff" stroke-width="1.25"/>
<circle cx="564.0" cy="139.7" r="2.2" fill="none" stroke="#ff00ff" stroke-width="1.25"/>
<circle cx="568.0" cy="140.0" r="2.2" fill="none" stroke="#ff00ff" stroke-width="1.25"/>
<circle cx="591.5" cy="139.7" r="2.2" fill="none" stroke="#ff00ff" stroke-width="1.25"/>
<circle cx="584.5" cy="142.4" r="2.2" fill="none" stroke="#ff00ff" stroke-width="1.25"/>
<circle cx="581.1" cy="146.1" r="2.2" fill="none" stroke="#ff00ff" stroke-width="1.25"/>
<circle cx="587.5" cy="146.7" r="2.2" fill="none" stroke="#ff00ff" stroke-width="1.25"/>
<circle cx="575.4" cy="148.4" r="2.2" fill="none" stroke="#ff00ff" stroke-width="1.25"/>
<circle cx="580.8" cy="149.4" r="2.2" fill="none" stroke="#ff00ff" stroke-width="1.25"/>
<circle cx="585.8" cy="150.4" r="2.2" fill="none" stroke="#ff00ff" stroke-width="1.25"/>
<circle cx="584.5" cy="147.0" r="2.2" fill="none" stroke="#ff00ff" stroke-width="1.25"/>
<circle cx="593.2" cy="155.5" r="2.2" fill="none" stroke="#ff00ff" stroke-width="1.25"/>
<circle cx="593.8" cy="156.5" r="2.2" fill="none" stroke="#ff00ff" stroke-width="1.25"/>
<circle cx="585.8" cy="156.5" r="2.2" fill="none" stroke="#ff00ff" stroke-width="1.25"/>
<circle cx="523.7" cy="147.7" r="2.2" fill="none" stroke="#ff00ff" stroke-width="1.25"/>
<circle cx="551.8" cy="146.7" r="2.2" fill="none" stroke="#ff00ff" stroke-width="1.25"/>
<circle cx="552.2" cy="151.1" r="2.2" fill="none" stroke="#ff00ff" stroke-width="1.25"/>
<circle cx="558.3" cy="148.8" r="2.2" fill="none" stroke="#ff00ff" stroke-width="1.25"/>
<circle cx="557.3" cy="151.1" r="2.2" fill="none" stroke="#ff00ff" stroke-width="1.25"/>
<circle cx="548.9" cy="155.8" r="2.2" fill="none" stroke="#ff00ff" stroke-width="1.25"/>
<circle cx="528.0" cy="160.7" r="2.2" fill="none" stroke="#ff00ff" stroke-width="1.25"/>
<circle cx="539.0" cy="162.8" r="2.2" fill="none" stroke="#ff00ff" stroke-width="1.25"/>
<circle cx="559.0" cy="158.7" r="2.2" fill="none" stroke="#ff00ff" stroke-width="1.25"/>
<circle cx="561.6" cy="157.4" r="2.2" fill="none" stroke="#ff00ff" stroke-width="1.25"/>
<circle cx="560.6" cy="161.1" r="2.2" fill="none" stroke="#ff00ff" stroke-width="1.25"/>
<circle cx="560.6" cy="166.2" r="2.2" fill="none" stroke="#ff00ff" stroke-width="1.25"/>
<circle cx="547.2" cy="171.0" r="2.2" fill="none" stroke="#ff00ff" stroke-width="1.25"/>
<circle cx="553.6" cy="170.5" r="2.2" fill="none" stroke="#ff00ff" stroke-width="1.25"/>
<circle cx="583.8" cy="157.7" r="2.2" fill="none" stroke="#ff00ff" stroke-width="1.25"/>
<circle cx="587.8" cy="157.7" r="2.2" fill="none" stroke="#ff00ff" stroke-width="1.25"/>
<circle cx="577.8" cy="159.4" r="2.2" fill="none" stroke="#ff00ff" stroke-width="1.25"/>
<circle cx="576.4" cy="163.5" r="2.2" fill="none" stroke="#ff00ff" stroke-width="1.25"/>
<circle cx="567.6" cy="162.8" r="2.2" fill="none" stroke="#ff00ff" stroke-width="1.25"/>
<circle cx="565.3" cy="168.8" r="2.2" fill="none" stroke="#ff00ff" stroke-width="1.25"/>
<circle cx="578.6" cy="168.3" r="2.2" fill="none" stroke="#ff00ff" stroke-width="1.25"/>
<circle cx="574.4" cy="171.0" r="2.2" fill="none" stroke="#ff00ff" stroke-width="1.25"/>
<circle cx="565.7" cy="171.4" r="2.2" fill="none" stroke="#ff00ff" stroke-width="1.25"/>
<circle cx="551.6" cy="172.7" r="2.2" fill="none" stroke="#ff00ff" stroke-width="1.25"/>
<circle cx="556.6" cy="174.7" r="2.2" fill="none" stroke="#ff00ff" stroke-width="1.25"/>
<circle cx="562.6" cy="174.4" r="2.2" fill="none" stroke="#ff00ff" stroke-width="1.25"/>
<circle cx="536.3" cy="175.2" r="2.2" fill="none" stroke="#ff00ff" stroke-width="1.25"/>
<circle cx="536.5" cy="175.8" r="2.2" fill="none" stroke="#ff00ff" stroke-width="1.25"/>
<circle cx="529.6" cy="179.1" r="2.2" fill="none" stroke="#ff00ff" stroke-width="1.25"/>
<circle cx="534.5" cy="182.0" r="2.2" fill="none" stroke="#ff00ff" stroke-width="1.25"/>
<circle cx="539.0" cy="182.9" r="2.2" fill="none" stroke="#ff00ff" stroke-width="1.25"/>
<circle cx="519.4" cy="181.4" r="2.2" fill="none" stroke="#ff00ff" stroke-width="1.25"/>
<circle cx="518.0" cy="183.4" r="2.2" fill="none" stroke="#ff00ff" stroke-width="1.25"/>
<circle cx="558.4" cy="182.8" r="2.2" fill="none" stroke="#ff00ff" stroke-width="1.25"/>
<circle cx="593.9" cy="178.9" r="2.2" fill="none" stroke="#ff00ff" stroke-width="1.25"/>
<circle cx="582.8" cy="180.4" r="2.2" fill="none" stroke="#ff00ff" stroke-width="1.25"/>
<circle cx="586.8" cy="180.4" r="2.2" fill="none" stroke="#ff00ff" stroke-width="1.25"/>
<circle cx="570.7" cy="181.4" r="2.2" fill="none" stroke="#ff00ff" stroke-width="1.25"/>
<circle cx="577.2" cy="183.3" r="2.2" fill="none" stroke="#ff00ff" stroke-width="1.25"/>
<circle cx="572.4" cy="186.1" r="2.2" fill="none" stroke="#ff00ff" stroke-width="1.25"/>
<circle cx="576.8" cy="189.7" r="2.2" fill="none" stroke="#ff00ff" stroke-width="1.25"/>
<circle cx="582.1" cy="187.4" r="2.2" fill="none" stroke="#ff00ff" stroke-width="1.25"/>
<circle cx="566.0" cy="192.1" r="2.2" fill="none" stroke="#ff00ff" stroke-width="1.25"/>
<circle cx="577.2" cy="195.9" r="2.2" fill="none" stroke="#ff00ff" stroke-width="1.25"/>
<circle cx="490.8" cy="166.1" r="2.2" fill="none" stroke="#ff00ff" stroke-width="1.25"/>
<circle cx="502.2" cy="170.5" r="2.2" fill="none" stroke="#ff00ff" stroke-width="1.25"/>
<circle cx="502.2" cy="176.4" r="2.2" fill="none" stroke="#ff00ff" stroke-width="1.25"/>
<circle cx="485.2" cy="176.5" r="2.2" fill="none" stroke="#ff00ff" stroke-width="1.25"/>
<circle cx="497.5" cy="182.8" r="2.2" fill="none" stroke="#ff00ff" stroke-width="1.25"/>
<circle cx="477.4" cy="184.9" r="2.2" fill="none" stroke="#ff00ff" stroke-width="1.25"/>
<circle cx="477.0" cy="191.5" r="2.2" fill="none" stroke="#ff00ff" stroke-width="1.25"/>
<circle cx="504.5" cy="188.2" r="2.2" fill="none" stroke="#ff00ff" stroke-width="1.25"/>
<circle cx="509.3" cy="186.2" r="2.2" fill="none" stroke="#ff00ff" stroke-width="1.25"/>
<circle cx="516.7" cy="197.0" r="2.2" fill="none" stroke="#ff00ff" stroke-width="1.25"/>
<circle cx="544.5" cy="186.4" r="2.2" fill="none" stroke="#ff00ff" stroke-width="1.25"/>
<circle cx="534.5" cy="189.4" r="2.2" fill="none" stroke="#ff00ff" stroke-width="1.25"/>
<circle cx="536.8" cy="190.1" r="2.2" fill="none" stroke="#ff00ff" stroke-width="1.25"/>
<circle cx="541.8" cy="191.4" r="2.2" fill="none" stroke="#ff00ff" stroke-width="1.25"/>
<circle cx="511.3" cy="202.5" r="2.2" fill="none" stroke="#ff00ff" stroke-width="1.25"/>
<circle cx="494.4" cy="212.8" r="2.2" fill="none" stroke="#ff00ff" stroke-width="1.25"/>
<circle cx="514.0" cy="212.8" r="2.2" fill="none" stroke="#ff00ff" stroke-width="1.25"/>
<circle cx="471.8" cy="224.6" r="2.2" fill="none" stroke="#ff00ff" stroke-width="1.25"/>
<circle cx="487.1" cy="229.2" r="2.2" fill="none" stroke="#ff00ff" stroke-width="1.25"/>
<circle cx="586.1" cy="201.4" r="2.2" fill="none" stroke="#ff00ff" stroke-width="1.25"/>
<circle cx="553.3" cy="207.1" r="2.2" fill="none" stroke="#ff00ff" stroke-width="1.25"/>
<circle cx="545.6" cy="210.5" r="2.2" fill="none" stroke="#ff00ff" stroke-width="1.25"/>
<circle cx="534.1" cy="210.5" r="2.2" fill="none" stroke="#ff00ff" stroke-width="1.25"/>
<circle cx="522.7" cy="217.7" r="2.2" fill="none" stroke="#ff00ff" stroke-width="1.25"/>
<circle cx="537.8" cy="217.9" r="2.2" fill="none" stroke="#ff00ff" stroke-width="1.25"/>
<circle cx="522.4" cy="224.6" r="2.2" fill="none" stroke="#ff00ff" stroke-width="1.25"/>
<circle cx="526.7" cy="229.2" r="2.2" fill="none" stroke="#ff00ff" stroke-width="1.25"/>
<circle cx="570.4" cy="217.7" r="2.2" fill="none" stroke="#ff00ff" stroke-width="1.25"/>
<circle cx="566.0" cy="224.6" r="2.2" fill="none" stroke="#ff00ff" stroke-width="1.25"/>
<circle cx="568.7" cy="224.6" r="2.2" fill="none" stroke="#ff00ff" stroke-width="1.25"/>
<circle cx="571.6" cy="224.6" r="2.2" fill="none" stroke="#ff00ff" stroke-width="1.25"/>
<circle cx="546.1" cy="235.2" r="2.2" fill="none" stroke="#ff00ff" stroke-width="1.25"/>
<circle cx="464.0" cy="243.7" r="2.2" fill="none" stroke="#ff00ff" stroke-width="1.25"/>
<circle cx="523.5" cy="243.7" r="2.2" fill="none" stroke="#ff00ff" stroke-width="1.25"/>
<circle cx="567.3" cy="243.7" r="2.2" fill="none" stroke="#ff00ff" stroke-width="1.25"/>
<circle cx="483.7" cy="54.4" r="2.2" fill="none" stroke="#6b8e23" stroke-width="1.25"/>
<circle cx="479.8" cy="84.7" r="2.2" fill="none" stroke="#6b8e23" stroke-width="1.25"/>
<circle cx="498.6" cy="91.4" r="2.2" fill="none" stroke="#6b8e23" stroke-width="1.25"/>
<circle cx="508.3" cy="97.2" r="2.2" fill="none" stroke="#6b8e23" stroke-width="1.25"/>
<circle cx="500.2" cy="100.8" r="2.2" fill="none" stroke="#6b8e23" stroke-width="1.25"/>
<circle cx="469.6" cy="108.5" r="2.2" fill="none" stroke="#6b8e23" stroke-width="1.25"/>
<circle cx="468.0" cy="112.2" r="2.2" fill="none" stroke="#6b8e23" stroke-width="1.25"/>
<circle cx="477.1" cy="111.8" r="2.2" fill="none" stroke="#6b8e23" stroke-width="1.25"/>
<circle cx="487.7" cy="107.9" r="2.2" fill="none" stroke="#6b8e23" stroke-width="1.25"/>
<circle cx="484.5" cy="114.5" r="2.2" fill="none" stroke="#6b8e23" stroke-width="1.25"/>
<circle cx="499.1" cy="113.6" r="2.2" fill="none" stroke="#6b8e23" stroke-width="1.25"/>
<circle cx="480.7" cy="120.2" r="2.2" fill="none" stroke="#6b8e23" stroke-width="1.25"/>
<circle cx="457.2" cy="121.5" r="2.2" fill="none" stroke="#6b8e23" stroke-width="1.25"/>
<circle cx="519.7" cy="101.9" r="2.2" fill="none" stroke="#6b8e23" stroke-width="1.25"/>
<circle cx="539.2" cy="102.8" r="2.2" fill="none" stroke="#6b8e23" stroke-width="1.25"/>
<circle cx="542.9" cy="107.2" r="2.2" fill="none" stroke="#6b8e23" stroke-width="1.25"/>
<circle cx="569.4" cy="117.9" r="2.2" fill="none" stroke="#6b8e23" stroke-width="1.25"/>
<circle cx="470.7" cy="124.7" r="2.2" fill="none" stroke="#6b8e23" stroke-width="1.25"/>
<circle cx="498.2" cy="127.7" r="2.2" fill="none" stroke="#6b8e23" stroke-width="1.25"/>
<circle cx="486.1" cy="130.7" r="2.2" fill="none" stroke="#6b8e23" stroke-width="1.25"/>
<circle cx="465.0" cy="132.3" r="2.2" fill="none" stroke="#6b8e23" stroke-width="1.25"/>
<circle cx="470.4" cy="133.4" r="2.2" fill="none" stroke="#6b8e23" stroke-width="1.25"/>
<circle cx="506.0" cy="131.8" r="2.2" fill="none" stroke="#6b8e23" stroke-width="1.25"/>
<circle cx="502.6" cy="134.8" r="2.2" fill="none" stroke="#6b8e23" stroke-width="1.25"/>
<circle cx="492.6" cy="140.1" r="2.2" fill="none" stroke="#6b8e23" stroke-width="1.25"/>
<circle cx="492.8" cy="143.5" r="2.2" fill="none" stroke="#6b8e23" stroke-width="1.25"/>
<circle cx="498.2" cy="142.8" r="2.2" fill="none" stroke="#6b8e23" stroke-width="1.25"/>
<circle cx="471.8" cy="142.8" r="2.2" fill="none" stroke="#6b8e23" stroke-width="1.25"/>
<circle cx="473.1" cy="144.2" r="2.2" fill="none" stroke="#6b8e23" stroke-width="1.25"/>
<circle cx="453.6" cy="145.1" r="2.2" fill="none" stroke="#6b8e23" stroke-width="1.25"/>
<circle cx="477.8" cy="150.5" r="2.2" fill="none" stroke="#6b8e23" stroke-width="1.25"/>
<circle cx="484.5" cy="148.9" r="2.2" fill="none" stroke="#6b8e23" stroke-width="1.25"/>
<circle cx="486.8" cy="151.5" r="2.2" fill="none" stroke="#6b8e23" stroke-width="1.25"/>
<circle cx="503.3" cy="149.5" r="2.2" fill="none" stroke="#6b8e23" stroke-width="1.25"/>
<circle cx="506.9" cy="151.8" r="2.2" fill="none" stroke="#6b8e23" stroke-width="1.25"/>
<circle cx="510.0" cy="155.8" r="2.2" fill="none" stroke="#6b8e23" stroke-width="1.25"/>
<circle cx="470.4" cy="153.2" r="2.2" fill="none" stroke="#6b8e23" stroke-width="1.25"/>
<circle cx="472.3" cy="153.2" r="2.2" fill="none" stroke="#6b8e23" stroke-width="1.25"/>
<circle cx="479.0" cy="156.2" r="2.2" fill="none" stroke="#6b8e23" stroke-width="1.25"/>
<circle cx="523.4" cy="136.9" r="2.2" fill="none" stroke="#6b8e23" stroke-width="1.25"/>
<circle cx="537.8" cy="153.6" r="2.2" fill="none" stroke="#6b8e23" stroke-width="1.25"/>
<circle cx="533.8" cy="156.7" r="2.2" fill="none" stroke="#6b8e23" stroke-width="1.25"/>
<circle cx="534.5" cy="158.4" r="2.2" fill="none" stroke="#6b8e23" stroke-width="1.25"/>
<circle cx="538.8" cy="158.7" r="2.2" fill="none" stroke="#6b8e23" stroke-width="1.25"/>
<circle cx="534.8" cy="166.8" r="2.2" fill="none" stroke="#6b8e23" stroke-width="1.25"/>
<circle cx="548.6" cy="154.4" r="2.2" fill="none" stroke="#6b8e23" stroke-width="1.25"/>
<circle cx="566.0" cy="146.4" r="2.2" fill="none" stroke="#6b8e23" stroke-width="1.25"/>
<circle cx="480.7" cy="161.4" r="2.2" fill="none" stroke="#6b8e23" stroke-width="1.25"/>
<circle cx="475.0" cy="162.7" r="2.2" fill="none" stroke="#6b8e23" stroke-width="1.25"/>
<circle cx="497.8" cy="161.0" r="2.2" fill="none" stroke="#6b8e23" stroke-width="1.25"/>
<circle cx="498.8" cy="162.0" r="2.2" fill="none" stroke="#6b8e23" stroke-width="1.25"/>
<circle cx="512.0" cy="164.3" r="2.2" fill="none" stroke="#6b8e23" stroke-width="1.25"/>
<circle cx="503.3" cy="166.5" r="2.2" fill="none" stroke="#6b8e23" stroke-width="1.25"/>
<circle cx="486.5" cy="168.5" r="2.2" fill="none" stroke="#6b8e23" stroke-width="1.25"/>
<circle cx="494.2" cy="169.4" r="2.2" fill="none" stroke="#6b8e23" stroke-width="1.25"/>
<circle cx="501.8" cy="171.4" r="2.2" fill="none" stroke="#6b8e23" stroke-width="1.25"/>
<circle cx="508.0" cy="173.4" r="2.2" fill="none" stroke="#6b8e23" stroke-width="1.25"/>
<circle cx="475.4" cy="173.2" r="2.2" fill="none" stroke="#6b8e23" stroke-width="1.25"/>
<circle cx="448.5" cy="171.2" r="2.2" fill="none" stroke="#6b8e23" stroke-width="1.25"/>
<circle cx="453.2" cy="173.7" r="2.2" fill="none" stroke="#6b8e23" stroke-width="1.25"/>
<circle cx="489.1" cy="176.1" r="2.2" fill="none" stroke="#6b8e23" stroke-width="1.25"/>
<circle cx="485.7" cy="176.1" r="2.2" fill="none" stroke="#6b8e23" stroke-width="1.25"/>
<circle cx="483.0" cy="180.4" r="2.2" fill="none" stroke="#6b8e23" stroke-width="1.25"/>
<circle cx="486.1" cy="185.5" r="2.2" fill="none" stroke="#6b8e23" stroke-width="1.25"/>
<circle cx="487.9" cy="187.5" r="2.2" fill="none" stroke="#6b8e23" stroke-width="1.25"/>
<circle cx="494.2" cy="188.6" r="2.2" fill="none" stroke="#6b8e23" stroke-width="1.25"/>
<circle cx="499.5" cy="185.8" r="2.2" fill="none" stroke="#6b8e23" stroke-width="1.25"/>
<circle cx="468.0" cy="190.8" r="2.2" fill="none" stroke="#6b8e23" stroke-width="1.25"/>
<circle cx="477.1" cy="189.2" r="2.2" fill="none" stroke="#6b8e23" stroke-width="1.25"/>
<circle cx="432.2" cy="191.8" r="2.2" fill="none" stroke="#6b8e23" stroke-width="1.25"/>
<circle cx="511.6" cy="189.6" r="2.2" fill="none" stroke="#6b8e23" stroke-width="1.25"/>
<circle cx="513.8" cy="187.5" r="2.2" fill="none" stroke="#6b8e23" stroke-width="1.25"/>
<circle cx="481.8" cy="196.2" r="2.2" fill="none" stroke="#6b8e23" stroke-width="1.25"/>
<circle cx="523.7" cy="188.7" r="2.2" fill="none" stroke="#6b8e23" stroke-width="1.25"/>
<circle cx="528.8" cy="188.4" r="2.2" fill="none" stroke="#6b8e23" stroke-width="1.25"/>
<circle cx="524.4" cy="194.1" r="2.2" fill="none" stroke="#6b8e23" stroke-width="1.25"/>
<circle cx="585.8" cy="186.1" r="2.2" fill="none" stroke="#6b8e23" stroke-width="1.25"/>
<circle cx="582.1" cy="192.1" r="2.2" fill="none" stroke="#6b8e23" stroke-width="1.25"/>
<circle cx="573.5" cy="197.8" r="2.2" fill="none" stroke="#6b8e23" stroke-width="1.25"/>
<circle cx="460.2" cy="202.5" r="2.2" fill="none" stroke="#6b8e23" stroke-width="1.25"/>
<circle cx="457.3" cy="207.4" r="2.2" fill="none" stroke="#6b8e23" stroke-width="1.25"/>
<circle cx="468.7" cy="203.8" r="2.2" fill="none" stroke="#6b8e23" stroke-width="1.25"/>
<circle cx="470.0" cy="207.4" r="2.2" fill="none" stroke="#6b8e23" stroke-width="1.25"/>
<circle cx="474.7" cy="198.4" r="2.2" fill="none" stroke="#6b8e23" stroke-width="1.25"/>
<circle cx="475.4" cy="199.0" r="2.2" fill="none" stroke="#6b8e23" stroke-width="1.25"/>
<circle cx="477.0" cy="209.2" r="2.2" fill="none" stroke="#6b8e23" stroke-width="1.25"/>
<circle cx="480.5" cy="208.8" r="2.2" fill="none" stroke="#6b8e23" stroke-width="1.25"/>
<circle cx="481.7" cy="215.5" r="2.2" fill="none" stroke="#6b8e23" stroke-width="1.25"/>
<circle cx="495.2" cy="221.3" r="2.2" fill="none" stroke="#6b8e23" stroke-width="1.25"/>
<circle cx="504.5" cy="199.7" r="2.2" fill="none" stroke="#6b8e23" stroke-width="1.25"/>
<circle cx="501.3" cy="204.3" r="2.2" fill="none" stroke="#6b8e23" stroke-width="1.25"/>
<circle cx="509.6" cy="202.5" r="2.2" fill="none" stroke="#6b8e23" stroke-width="1.25"/>
<circle cx="504.9" cy="212.8" r="2.2" fill="none" stroke="#6b8e23" stroke-width="1.25"/>
<circle cx="515.8" cy="208.8" r="2.2" fill="none" stroke="#6b8e23" stroke-width="1.25"/>
<circle cx="517.7" cy="214.8" r="2.2" fill="none" stroke="#6b8e23" stroke-width="1.25"/>
<circle cx="518.4" cy="218.1" r="2.2" fill="none" stroke="#6b8e23" stroke-width="1.25"/>
<circle cx="537.8" cy="235.2" r="2.2" fill="none" stroke="#6b8e23" stroke-width="1.25"/>
<circle cx="499.3" cy="243.7" r="2.2" fill="none" stroke="#6b8e23" stroke-width="1.25"/>
<circle cx="476.3" cy="120.5" r="2.2" fill="none" stroke="#6a5acd" stroke-width="1.25"/>
<circle cx="473.4" cy="148.6" r="2.2" fill="none" stroke="#6a5acd" stroke-width="1.25"/>
<circle cx="455.2" cy="161.6" r="2.2" fill="none" stroke="#6a5acd" stroke-width="1.25"/>
<circle cx="460.6" cy="167.4" r="2.2" fill="none" stroke="#6a5acd" stroke-width="1.25"/>
<circle cx="436.4" cy="178.8" r="2.2" fill="none" stroke="#6a5acd" stroke-width="1.25"/>
<circle cx="430.4" cy="204.1" r="2.2" fill="none" stroke="#6a5acd" stroke-width="1.25"/>
<circle cx="441.6" cy="201.4" r="2.2" fill="none" stroke="#6a5acd" stroke-width="1.25"/>
<circle cx="445.8" cy="212.8" r="2.2" fill="none" stroke="#6a5acd" stroke-width="1.25"/>
<circle cx="473.8" cy="207.0" r="2.2" fill="none" stroke="#6a5acd" stroke-width="1.25"/>
<circle cx="534.5" cy="197.7" r="2.2" fill="none" stroke="#6a5acd" stroke-width="1.25"/>
<circle cx="525.3" cy="210.8" r="2.2" fill="none" stroke="#6a5acd" stroke-width="1.25"/>
</g>
</svg>
</body></html>
